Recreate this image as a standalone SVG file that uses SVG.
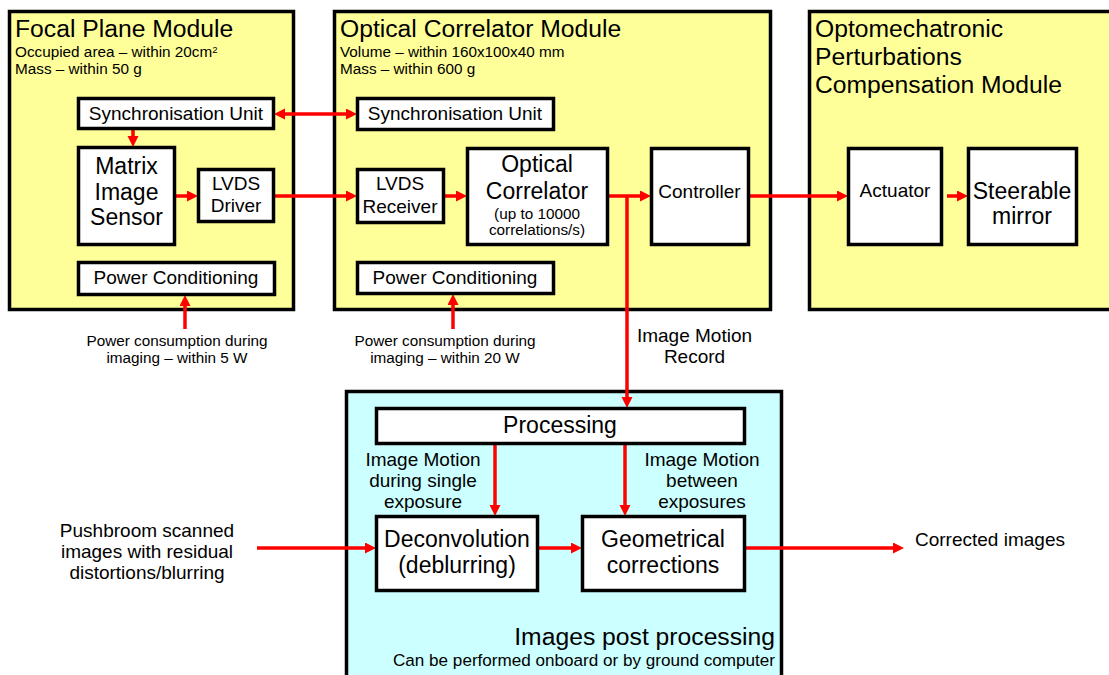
<svg xmlns="http://www.w3.org/2000/svg" width="1109" height="675" viewBox="0 0 1109 675">
  <style>
    text { font-family: "Liberation Sans", Arial, sans-serif; fill: #000; }
    .module { fill: #FFFF99; stroke: #000; stroke-width: 3.5; }
    .post { fill: #CCFFFF; stroke: #000; stroke-width: 3.5; }
    .box { fill: #FFF; stroke: #000; stroke-width: 3.5; }
    .title { font-size: 24.7px; }
    .sub { font-size: 15.3px; }
    .lbl { font-size: 19px; text-anchor: middle; }
    .big { font-size: 23px; text-anchor: middle; }
    .small { font-size: 15.3px; text-anchor: middle; }
    .wire { stroke: #FF0000; stroke-width: 3.5; fill: none; }
    .arrow { marker-end: url(#head); }
  </style>
  <defs>
    <marker id="head" markerUnits="userSpaceOnUse" markerWidth="11" markerHeight="12" refX="5" refY="5.5" orient="auto-start-reverse">
      <path d="M0,0 L11,5.5 L0,11 z" fill="#FF0000"/>
    </marker>
  </defs>

  <rect width="1109" height="675" fill="#FFFFFF"/>

  <!-- Focal plane module -->
  <g id="focal-plane-module">
    <rect class="module" x="9.5" y="11.5" width="284" height="298"/>
    <text class="title" x="15" y="36.5">Focal Plane Module</text>
    <text class="sub" x="15" y="57">Occupied area – within 20cm<tspan font-size="9.5px" dy="-4.5">2</tspan></text>
    <text class="sub" x="15" y="74">Mass – within 50 g</text>
  </g>

  <!-- Optical correlator module -->
  <g id="optical-correlator-module">
    <rect class="module" x="334.5" y="11.5" width="436" height="298"/>
    <text class="title" x="340" y="36.5">Optical Correlator Module</text>
    <text class="sub" x="340" y="57">Volume – within 160x100x40 mm</text>
    <text class="sub" x="340" y="74">Mass – within 600 g</text>
  </g>

  <!-- Perturbation compensation module -->
  <g id="compensation-module">
    <rect class="module" x="809.5" y="11.5" width="320" height="298"/>
    <text class="title" x="815" y="37">Optomechatronic</text>
    <text class="title" x="815" y="65">Perturbations</text>
    <text class="title" x="815" y="93">Compensation Module</text>
  </g>

  <!-- Post processing block -->
  <g id="post-processing">
    <rect class="post" x="346.5" y="391.5" width="435" height="300"/>
    <text x="775" y="645" font-size="24.7px" text-anchor="end">Images post processing</text>
    <text x="775" y="666" font-size="17.1px" text-anchor="end">Can be performed onboard or by ground computer</text>
  </g>

  <!-- Connectors -->
  <g id="connectors">
    <line class="wire" x1="280" y1="114" x2="351" y2="114" marker-start="url(#head)" marker-end="url(#head)"/>
    <line class="wire arrow" x1="133" y1="130" x2="133" y2="141"/>
    <line class="wire arrow" x1="176" y1="196" x2="192" y2="196"/>
    <line class="wire arrow" x1="275" y1="196" x2="351" y2="196"/>
    <line class="wire arrow" x1="445" y1="196" x2="461" y2="196"/>
    <line class="wire arrow" x1="609" y1="196" x2="645" y2="196"/>
    <line class="wire arrow" x1="627" y1="196" x2="627" y2="402"/>
    <line class="wire arrow" x1="750" y1="196" x2="842" y2="196"/>
    <line class="wire arrow" x1="947" y1="196" x2="962" y2="196"/>
    <line class="wire arrow" x1="185" y1="329" x2="185" y2="301"/>
    <line class="wire arrow" x1="453" y1="329" x2="453" y2="300"/>
    <line class="wire arrow" x1="495" y1="445" x2="495" y2="510"/>
    <line class="wire arrow" x1="625" y1="445" x2="625" y2="510"/>
    <line class="wire arrow" x1="257" y1="548" x2="370" y2="548"/>
    <line class="wire arrow" x1="539" y1="548" x2="576" y2="548"/>
    <line class="wire arrow" x1="746" y1="548" x2="898" y2="548"/>
  </g>

  <!-- Focal plane module parts -->
  <g id="fpm-sync">
    <rect class="box" x="78.5" y="98.5" width="195" height="30"/>
    <text class="lbl" x="176" y="119.5">Synchronisation Unit</text>
  </g>
  <g id="matrix-sensor">
    <rect class="box" x="78.5" y="147.5" width="96" height="97"/>
    <text class="big" x="126.5" y="174">Matrix</text>
    <text class="big" x="126.5" y="199.5">Image</text>
    <text class="big" x="126.5" y="225">Sensor</text>
  </g>
  <g id="lvds-driver">
    <rect class="box" x="198.5" y="169.5" width="75" height="52"/>
    <text class="lbl" x="236" y="189.5">LVDS</text>
    <text class="lbl" x="236" y="212">Driver</text>
  </g>
  <g id="fpm-power">
    <rect class="box" x="78.5" y="262.5" width="196" height="32"/>
    <text class="lbl" x="176" y="284">Power Conditioning</text>
  </g>

  <!-- Optical correlator module parts -->
  <g id="ocm-sync">
    <rect class="box" x="357.5" y="98.5" width="196" height="31"/>
    <text class="lbl" x="455" y="119.5">Synchronisation Unit</text>
  </g>
  <g id="lvds-receiver">
    <rect class="box" x="357.5" y="169.5" width="86" height="53"/>
    <text class="lbl" x="400" y="190">LVDS</text>
    <text class="lbl" x="400" y="212.5">Receiver</text>
  </g>
  <g id="optical-correlator">
    <rect class="box" x="467.5" y="148.5" width="140" height="96"/>
    <text class="big" x="537" y="172">Optical</text>
    <text class="big" x="537" y="199">Correlator</text>
    <text class="small" x="537" y="218.5">(up to 10000</text>
    <text class="small" x="537" y="235">correlations/s)</text>
  </g>
  <g id="controller">
    <rect class="box" x="651.5" y="148.5" width="97" height="96"/>
    <text class="lbl" x="699.5" y="197.5">Controller</text>
  </g>
  <g id="ocm-power">
    <rect class="box" x="357.5" y="262.5" width="196" height="31"/>
    <text class="lbl" x="455" y="284">Power Conditioning</text>
  </g>

  <!-- Compensation module parts -->
  <g id="actuator">
    <rect class="box" x="848.5" y="148.5" width="93" height="96"/>
    <text class="lbl" x="895" y="197">Actuator</text>
  </g>
  <g id="steerable-mirror">
    <rect class="box" x="968.5" y="148.5" width="108" height="96"/>
    <text class="big" x="1022" y="199">Steerable</text>
    <text class="big" x="1022" y="224">mirror</text>
  </g>

  <!-- Post processing parts -->
  <g id="processing">
    <rect class="box" x="376.5" y="408.5" width="368" height="35"/>
    <text class="big" x="560" y="433">Processing</text>
  </g>
  <g id="deconvolution">
    <rect class="box" x="376.5" y="516.5" width="161" height="74"/>
    <text class="big" x="457" y="547">Deconvolution</text>
    <text class="big" x="457" y="573">(deblurring)</text>
  </g>
  <g id="geometrical-corrections">
    <rect class="box" x="582.5" y="516.5" width="162" height="74"/>
    <text class="big" x="663" y="547">Geometrical</text>
    <text class="big" x="663" y="573">corrections</text>
  </g>

  <!-- Free labels -->
  <g id="labels">
    <text class="small" x="177" y="346">Power consumption during</text>
    <text class="small" x="177" y="363">imaging – within 5 W</text>
    <text class="small" x="445" y="346">Power consumption during</text>
    <text class="small" x="445" y="363">imaging – within 20 W</text>
    <text class="lbl" x="694.5" y="342">Image Motion</text>
    <text class="lbl" x="694.5" y="363">Record</text>
    <text class="lbl" x="423" y="466">Image Motion</text>
    <text class="lbl" x="423" y="487">during single</text>
    <text class="lbl" x="423" y="508">exposure</text>
    <text class="lbl" x="702" y="466">Image Motion</text>
    <text class="lbl" x="702" y="487">between</text>
    <text class="lbl" x="702" y="508">exposures</text>
    <text class="lbl" x="147" y="537">Pushbroom scanned</text>
    <text class="lbl" x="147" y="558">images with residual</text>
    <text class="lbl" x="147" y="579">distortions/blurring</text>
    <text x="915" y="546" font-size="19px">Corrected images</text>
  </g>
</svg>
